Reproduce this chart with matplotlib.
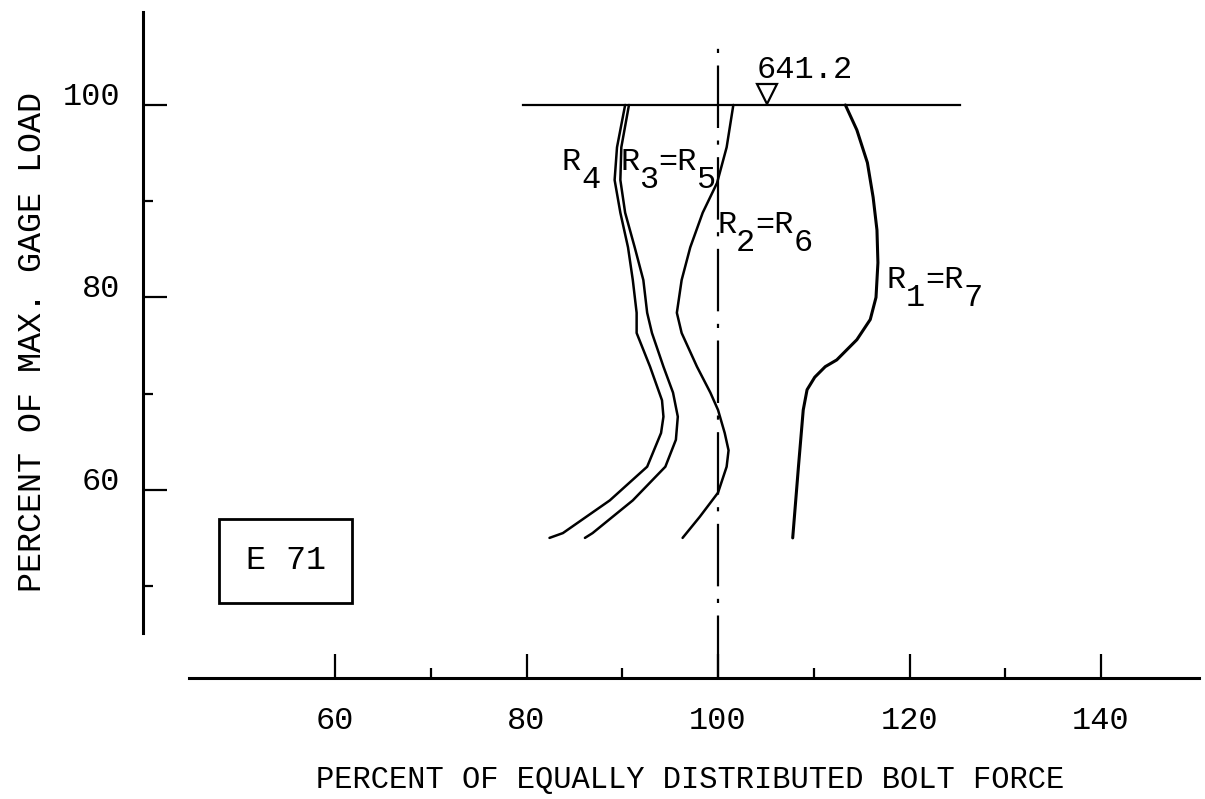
"""
Bolt force distribution, specimen E 71
"""

import matplotlib
matplotlib.use('Agg')
import matplotlib.pyplot as plt
from matplotlib.patches import Rectangle

# Percent of max. gage load (y) vs percent of equally distributed bolt force (x)
r4_load = [100, 95.6, 92.2, 88.8, 85.2, 81.8, 78.4, 76.3, 72.8, 69.3, 67.6, 65.9, 62.4, 58.9, 55.5, 55.0]
r4_force = [90.3, 89.45, 89.2, 89.8, 90.6, 91.1, 91.5, 91.5, 92.9, 94.15, 94.3, 94.05, 92.6, 88.7, 83.8, 82.4]

r3_r5_load = [100, 95.6, 92.2, 88.8, 85.2, 81.8, 78.4, 76.3, 72.8, 70.1, 67.6, 65.2, 62.4, 58.9, 55.5, 55.0]
r3_r5_force = [90.7, 89.9, 89.8, 90.3, 91.3, 92.2, 92.6, 93.1, 94.3, 95.3, 95.8, 95.6, 94.5, 91.1, 86.9, 86.1]

r2_r6_load = [100, 95.6, 91.9, 88.8, 85.2, 81.8, 78.4, 76.3, 72.8, 70.1, 68.3, 65.9, 64.1, 62.4, 59.7, 57.2, 55.0]
r2_r6_force = [101.6, 100.9, 99.9, 98.4, 97.1, 96.2, 95.7, 96.2, 97.8, 99.2, 100.0, 100.7, 101.1, 100.9, 100.0, 98.1, 96.3]

r1_r7_load = [100, 97.4, 94.0, 90.4, 87.0, 83.6, 80.0, 77.7, 75.6, 73.5, 72.8, 71.7, 70.4, 68.3, 62.4, 55.0]
r1_r7_force = [113.3, 114.5, 115.6, 116.2, 116.6, 116.7, 116.5, 115.9, 114.5, 112.4, 111.2, 110.1, 109.3, 108.9, 108.4, 107.8]

x_ticks = [60, 80, 100, 120, 140]
x_minor = [70, 90, 110, 130]
y_ticks = [60, 80, 100]
y_minor = [50, 70, 90]

max_load_value = '641.2'
max_load_force = 105.1
specimen = 'E 71'

FONT = 'Liberation Mono'
FS = 23
PITCH = 0.6 * FS  # monospace advance in points


def label_r(ax, x, y, parts):
    """typewriter style label: subscripts same size, dropped half a line"""
    col = 0
    for text, is_sub in parts:
        ax.annotate(text, (x, y), xytext=(col * PITCH, -13 if is_sub else 0),
                    textcoords='offset points', fontsize=FS, family=FONT,
                    ha='left', va='baseline')
        col += len(text)


def make_plot():
    plt.rcParams['lines.scale_dashes'] = False
    fig = plt.figure(figsize=(12.05, 7.99), dpi=100)
    ax = fig.add_axes([0, 0, 1, 1])
    ax.set_xlim(25.01, 150.86)
    ax.set_ylim(27.86, 110.91)
    ax.patch.set_visible(False)

    # axes drawn as free-standing lines
    ax.spines['top'].set_visible(False)
    ax.spines['right'].set_visible(False)
    ax.spines['left'].set_position(('data', 39.9))
    ax.spines['left'].set_bounds(45.1, 109.7)
    ax.spines['bottom'].set_position(('data', 40.4))
    ax.spines['bottom'].set_bounds(44.8, 150.2)
    for s in ('left', 'bottom'):
        ax.spines[s].set_linewidth(2.2)

    ax.set_xticks(x_ticks)
    ax.set_xticks(x_minor, minor=True)
    ax.set_yticks(y_ticks)
    ax.set_yticks(y_minor, minor=True)
    ax.tick_params(which='major', direction='in', length=17, width=1.6,
                   labelsize=FS, pad=20)
    ax.tick_params(which='minor', direction='in', length=7, width=1.6)
    ax.tick_params(axis='y', which='major', pad=16)
    for lbl in ax.get_xticklabels() + ax.get_yticklabels():
        lbl.set_family(FONT)
    for lbl in ax.get_yticklabels():
        lbl.set_verticalalignment('baseline')

    ax.set_xlabel('PERCENT OF EQUALLY DISTRIBUTED BOLT FORCE', fontsize=22, family=FONT)
    ax.xaxis.set_label_coords(0.573, 0.043)
    ax.set_ylabel('PERCENT OF MAX. GAGE LOAD', fontsize=24, family=FONT)
    ax.yaxis.set_label_coords(0.040, 0.572)

    # reference lines
    ax.plot([79.6, 125.3], [100, 100], color='black', lw=1.6)
    ax.plot([100, 100], [40.4, 106.0], color='black', lw=1.6,
            dashes=[45, 9, 3, 9])

    # curves
    kw = dict(color='black', solid_joinstyle='round', solid_capstyle='round')
    ax.plot(r4_force, r4_load, lw=1.8, **kw)
    ax.plot(r3_r5_force, r3_r5_load, lw=1.8, **kw)
    ax.plot(r2_r6_force, r2_r6_load, lw=1.8, **kw)
    ax.plot(r1_r7_force, r1_r7_load, lw=2.2, **kw)

    label_r(ax, 83.7, 93.2, [('R', False), ('4', True)])
    label_r(ax, 89.8, 93.2, [('R', False), ('3', True), ('=R', False), ('5', True)])
    label_r(ax, 99.9, 86.7, [('R', False), ('2', True), ('=R', False), ('6', True)])
    label_r(ax, 117.6, 81.0, [('R', False), ('1', True), ('=R', False), ('7', True)])

    # max load marker
    ax.plot([max_load_force], [101.1], marker='v', ms=14, mfc='white',
            mec='black', mew=1.6, color='black')
    ax.text(104.07, 102.8, max_load_value, fontsize=FS, family=FONT,
            ha='left', va='baseline')

    # specimen box
    ax.add_patch(Rectangle((47.9, 48.2), 13.9, 8.8, fill=False, lw=2.0,
                           edgecolor='black'))
    ax.text(54.9, 52.6, specimen, fontsize=24, family=FONT, ha='center', va='center')

    fig.savefig('out.png', dpi=100)


if __name__ == '__main__':
    make_plot()
